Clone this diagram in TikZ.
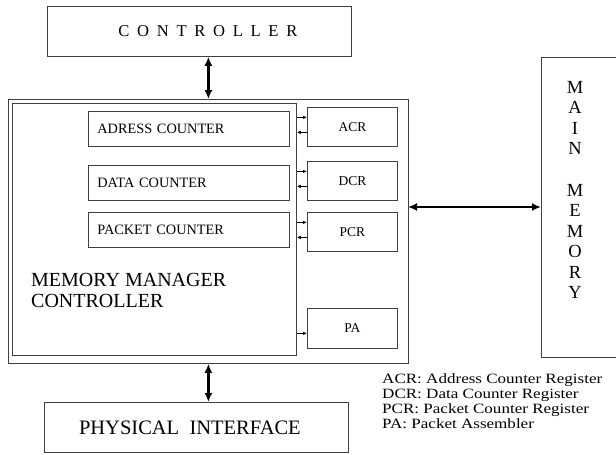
\documentclass[tikz,border=0pt]{standalone}
\usepackage{fontspec}
\setmainfont{Liberation Serif}
\newfontfamily\legendfont[FakeStretch=1.2]{Liberation Serif}
\usetikzlibrary{arrows.meta}

\begin{document}
\begin{tikzpicture}[x=1pt, y=-1pt,
  blk/.style={draw=black!75, line width=0.8pt, inner sep=0pt, anchor=north west},
  ctr/.style={blk, text width=#1, align=left, inner xsep=9pt,
    minimum height=35, font=\fontsize{14.3}{17}\selectfont},
  reg/.style={blk, minimum width=90, minimum height=39, font=\fontsize{13.5}{15}\selectfont},
  bigarrow/.style={{Latex[length=9pt,width=8pt]}-{Latex[length=9pt,width=8pt]}, line width=#1},
  smallarrow/.style={-{Latex[length=4pt,width=3.5pt]}, line width=0.9pt}]
  \useasboundingbox (0,0) rectangle (616,455);

  \node[blk, minimum width=304, minimum height=50, font=\fontsize{16.6}{18}\selectfont]
    (ctrl) at (47,6) {\hspace*{17pt}{\spaceskip=7.7pt C O N T R O L L E R}};
  \node[blk, minimum width=400, minimum height=264] (outer) at (8,99) {};
  \node[blk, minimum width=284, minimum height=252] (inner) at (12,103) {};
  \node[ctr=183] (adr) at (88,111) {ADRESS COUNTER};
  \node[ctr=183] (dat) at (88,165) {DATA COUNTER};
  \node[ctr=183] (pkt) at (88,212) {PACKET COUNTER};
  \node[reg] (acr) at (307,107) {ACR};
  \node[reg] (dcr) at (307,161) {DCR};
  \node[reg] (pcr) at (307,212) {PCR};
  \node[reg, minimum height=40] (pa) at (307,308) {PA};
  \node[anchor=north west, align=left, inner sep=0pt, font=\fontsize{20}{20.5}\selectfont]
    (mmclabel) at (31,273.5) {MEMORY MANAGER\\CONTROLLER};

  \node[blk, minimum width=90, minimum height=300] (mainmem) at (541,57) {};
  \node[anchor=north, align=center, inner sep=0pt, font=\fontsize{18.5}{20.55}\selectfont]
    (mmtext) at (575,81) {M\\A\\I\\N\\[20.55pt]M\\E\\M\\O\\R\\Y};

  \node[blk, minimum width=304, minimum height=50, font=\fontsize{20.5}{22}\selectfont]
    (phy) at (44,402) {PHYSICAL\ \ INTERFACE\hspace*{13pt}};

  \node[anchor=north west, align=left, inner sep=0pt, font=\legendfont\fontsize{14.2}{15}\selectfont]
    (legend) at (382,373.5) {ACR: Address Counter Register\\DCR: Data Counter Register\\
    PCR: Packet Counter Register\\PA: Packet Assembler};

  \draw[bigarrow=3pt] (ctrl.south -| outer.north) -- (outer.north);
  \draw[bigarrow=3pt] (outer.south) -- (outer.south |- phy.north);
  \coordinate (mmlink) at (408,207);
  \draw[bigarrow=2pt] (mmlink) -- (mmlink -| mainmem.west);

  \foreach \r in {acr,dcr,pcr} {
    \draw[smallarrow] ([yshift=9.5pt]\r.west -| inner.east) -- ([yshift=9.5pt]\r.west);
    \draw[smallarrow] ([yshift=-5.5pt]\r.west) -- ([yshift=-5.5pt]\r.west -| inner.east);
  }
  \draw[smallarrow] ([yshift=-5pt]pa.west -| inner.east) -- ([yshift=-5pt]pa.west);
\end{tikzpicture}
\end{document}
